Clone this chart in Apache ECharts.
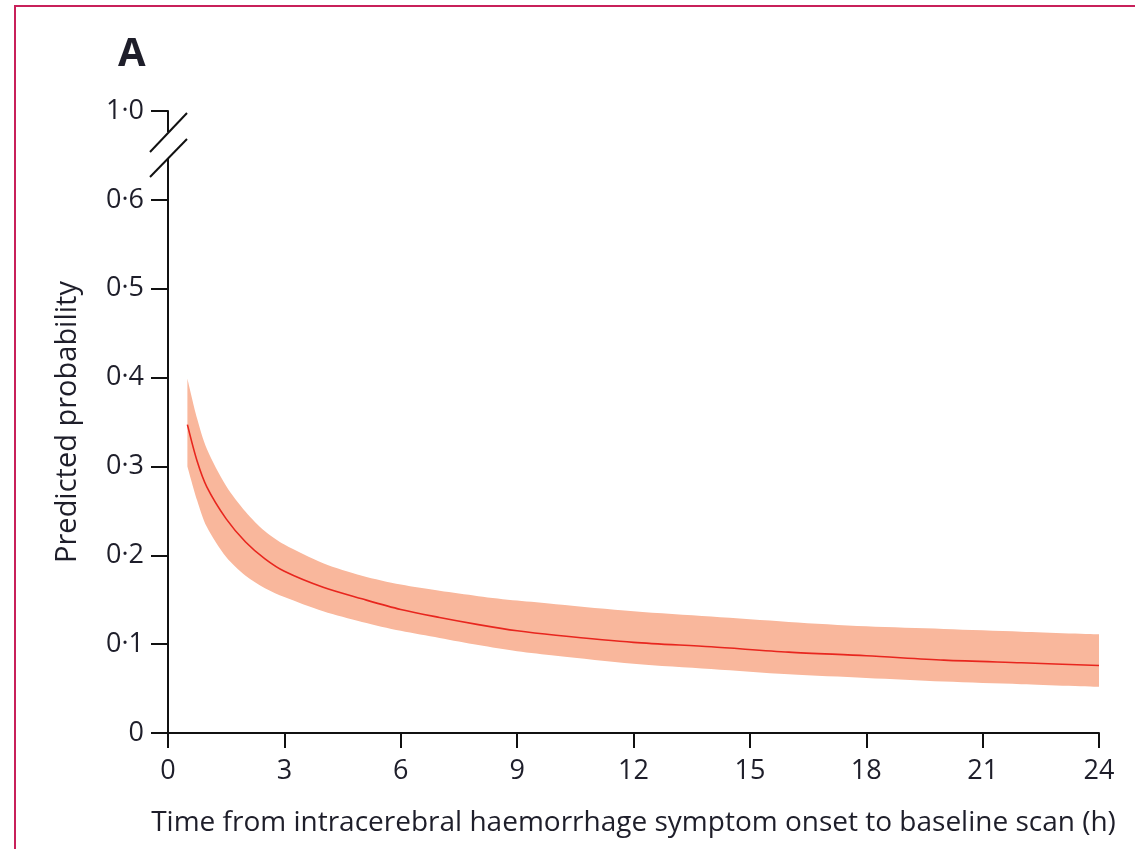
<!DOCTYPE html>
<html>
<head>
<meta charset="utf-8">
<script src="https://cdn.jsdelivr.net/npm/echarts@6/dist/echarts.min.js"></script>
<style>
    html, body { margin: 0; padding: 0; background: #fff; overflow: hidden; }
    #chart { position: absolute; left: 0; top: 0; width: 1135px; height: 849px; }
    #frame {
        position: absolute; left: 14px; top: 5px; width: 1140px; height: 900px;
        border-left: 2px solid #c8205a; border-top: 2px solid #c8205a;
        pointer-events: none;
    }
</style>
</head>
<body>
<div id="chart"></div>
<div id="frame"></div>
<script>
/**
 * 
 * 预测概率 vs 发病至扫描时间
 * 
 */
const hours = [0.5, 0.75, 1, 1.5, 2, 2.5, 3, 4, 5, 6, 7, 8, 9, 10, 12, 14, 16, 18, 20, 22, 24];
const predicted = [0.347, 0.306, 0.277, 0.241, 0.215, 0.196, 0.182, 0.164, 0.151, 0.139, 0.130, 0.122, 0.115, 0.110, 0.102, 0.097, 0.091, 0.087, 0.082, 0.079, 0.076];
const upperCI = [0.399, 0.354, 0.320, 0.278, 0.249, 0.227, 0.212, 0.191, 0.177, 0.167, 0.160, 0.154, 0.149, 0.145, 0.137, 0.131, 0.125, 0.120, 0.117, 0.114, 0.111];
const lowerCI = [0.300, 0.262, 0.232, 0.198, 0.177, 0.163, 0.153, 0.137, 0.125, 0.115, 0.107, 0.099, 0.092, 0.087, 0.078, 0.072, 0.066, 0.062, 0.058, 0.055, 0.052];
// 最上面的刻度 0.7 位置显示成 1·0 （断轴）
const yTickLabels = ['0', '0·1', '0·2', '0·3', '0·4', '0·5', '0·6', '1·0'];
const yMax = 0.7;

const textColor = '#1e1e2a';
const fontFamily = '"Open Sans", "DejaVu Sans", sans-serif';

const option = {
    animation: false,
    title: {
        text: 'A',
        left: 113,
        top: 30,
        textStyle: {
            fontSize: 40,
            fontWeight: 'bold',
            color: textColor,
            fontFamily: fontFamily
        }
    },
    grid: {
        left: 168,
        right: 36,
        top: 111,
        bottom: 116
    },
    xAxis: {
        type: 'value',
        min: 0,
        max: 24,
        interval: 3,
        name: 'Time from intracerebral haemorrhage symptom onset to baseline scan (h)',
        nameLocation: 'middle',
        nameGap: 76,
        nameTextStyle: {
            fontSize: 28,
            color: textColor,
            fontFamily: fontFamily
        },
        splitLine: { show: false },
        axisLine: { lineStyle: { color: '#111', width: 2 } },
        axisTick: { length: 15, lineStyle: { color: '#111', width: 2 } },
        axisLabel: {
            fontSize: 27,
            margin: 25,
            color: textColor,
            fontFamily: fontFamily
        }
    },
    yAxis: {
        type: 'value',
        min: 0,
        max: yMax,
        interval: 0.1,
        name: 'Predicted probability',
        nameLocation: 'middle',
        nameGap: 86,
        nameTextStyle: {
            fontSize: 29,
            color: textColor,
            fontFamily: fontFamily
        },
        splitLine: { show: false },
        axisLine: { show: true, lineStyle: { color: '#111', width: 2 } },
        axisTick: { show: true, length: 17, lineStyle: { color: '#111', width: 2 } },
        axisLabel: {
            fontSize: 27,
            margin: 24,
            color: textColor,
            fontFamily: fontFamily,
            formatter: function (v) {
                return yTickLabels[Math.round(v * 10)];
            }
        }
    },
    series: [
        // 置信区间：下界 + (上界-下界) 堆叠，数值维放第一位让 stack 作用在 y 上
        {
            name: 'lower',
            type: 'line',
            stack: 'ci',
            smooth: 0.3,
            symbol: 'none',
            lineStyle: { opacity: 0 },
            encode: { x: 1, y: 0 },
            data: hours.map((h, i) => [lowerCI[i], h])
        },
        {
            name: 'band',
            type: 'line',
            stack: 'ci',
            smooth: 0.3,
            symbol: 'none',
            lineStyle: { opacity: 0 },
            areaStyle: { color: '#f9b79c', opacity: 1 },
            encode: { x: 1, y: 0 },
            data: hours.map((h, i) => [+(upperCI[i] - lowerCI[i]).toFixed(4), h])
        },
        {
            name: 'predicted',
            type: 'line',
            smooth: 0.3,
            symbol: 'none',
            lineStyle: { color: '#e8261e', width: 1.6 },
            data: hours.map((h, i) => [h, predicted[i]])
        }
    ]
};

const chart = echarts.init(document.getElementById('chart'));
chart.setOption(option);

// 断轴符号：白块盖住轴线 + 两条斜线
const topPt = chart.convertToPixel({ gridIndex: 0 }, [0, yMax]);
const ax = topPt[0], ay = topPt[1];
chart.setOption({
    graphic: [
        {
            type: 'rect', z: 100,
            shape: { x: ax - 4, y: ay + 21, width: 8, height: 27 },
            style: { fill: '#fff' }
        },
        {
            type: 'line', z: 101,
            shape: { x1: ax - 18, y1: ay + 41, x2: ax + 19, y2: ay + 2 },
            style: { stroke: '#111', lineWidth: 2 }
        },
        {
            type: 'line', z: 101,
            shape: { x1: ax - 18, y1: ay + 66, x2: ax + 19, y2: ay + 28 },
            style: { stroke: '#111', lineWidth: 2 }
        }
    ]
});
</script>
</body>
</html>
